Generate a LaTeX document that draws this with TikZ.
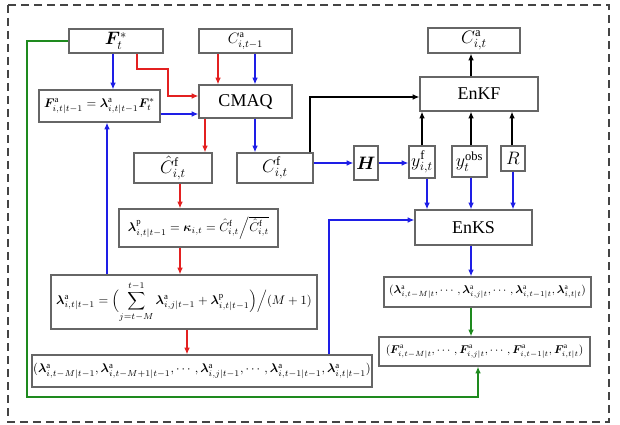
\documentclass[tikz,border=0pt]{standalone}
\usepackage{amsmath,amssymb,bm}
\usepackage{fontspec}
\setmainfont{Liberation Serif}
\usetikzlibrary{arrows.meta}
\definecolor{boxgray}{HTML}{666666}
\definecolor{flowred}{HTML}{E32020}
\definecolor{flowblue}{HTML}{1E1EE6}
\definecolor{flowgreen}{HTML}{1E8A1E}
\definecolor{framegray}{HTML}{444444}
\newcommand{\px}{0.8pt}
\tikzset{
  every picture/.style={line join=miter, >={Latex[length=5.5pt,width=4.6pt]}},
  box/.style={draw=boxgray, line width=0.9pt, inner sep=1pt, align=center},
  sym/.style={font=\Large},
  label/.style={font=\Large},
  redline/.style={flowred, line width=1.4pt, ->},
  blueline/.style={flowblue, line width=1.4pt, ->},
  greenline/.style={flowgreen, line width=1.4pt, ->},
  blackline/.style={black, line width=1.4pt, ->},
}
\newcommand{\lam}{\boldsymbol{\lambda}}
\newcommand{\sa}{\mathrm{a}}

\begin{document}
\begin{tikzpicture}[x=\px,y=-\px]
\useasboundingbox (0,0) rectangle (620,425);
\draw[framegray,line width=1.2pt,dash pattern=on 6.4pt off 4pt] (8,5) rectangle (609,422);
\node[box,sym,minimum width=94*\px,minimum height=24*\px] (fstar) at (116,41) {$\boldsymbol{F}_t^{*}$};
\node[box,font=\large,minimum width=93*\px,minimum height=24*\px] (cprev) at (245.5,41) {$C_{i,t-1}^{\sa}$};
\node[box,minimum width=121*\px,minimum height=32*\px] (faeq) at (99.5,106) {$\boldsymbol{F}_{i,t|t-1}^{\sa}=\lam_{i,t|t-1}^{\sa}\boldsymbol{F}_t^{*}$};
\node[box,label,minimum width=93*\px,minimum height=33*\px] (cmaq) at (245.5,101.5) {CMAQ};
\node[box,sym,minimum width=92*\px,minimum height=25*\px] (cat) at (474,40.5) {$C_{i,t}^{\sa}$};
\node[box,label,minimum width=118*\px,minimum height=34*\px] (enkf) at (479,94) {EnKF};
\node[box,sym,minimum width=78*\px,minimum height=30*\px] (chatf) at (173,168) {$\hat{C}_{i,t}^{\mathrm{f}}$};
\node[box,sym,minimum width=76*\px,minimum height=30*\px] (cf) at (275,168) {$C_{i,t}^{\mathrm{f}}$};
\node[box,minimum width=159*\px,minimum height=38*\px] (lpeq) at (198.5,228) {$\lam_{i,t|t-1}^{\mathrm{p}}=\boldsymbol{\kappa}_{i,t}=\hat{C}_{i,t}^{\mathrm{f}}\Big/\overline{\hat{C}_{i,t}^{\mathrm{f}}}$};
\node[box,sym,minimum width=24*\px,minimum height=34*\px] (hbox) at (366,163) {$\boldsymbol{H}$};
\node[box,sym,minimum width=26*\px,minimum height=32*\px] (yf) at (422,162) {$y_{i,t}^{\mathrm{f}}$};
\node[box,sym,minimum width=35*\px,minimum height=31*\px] (yobs) at (469.5,161.5) {$y_{t}^{\mathrm{obs}}$};
\node[box,sym,minimum width=24*\px,minimum height=25*\px] (rbox) at (513,158.5) {$R$};
\node[box,label,minimum width=117*\px,minimum height=35*\px] (enks) at (473.5,227.5) {EnKS};
\node[box,minimum width=266*\px,minimum height=54*\px] (laeq) at (184,302) {$\displaystyle\lam_{i,t|t-1}^{\sa}=\Bigl(\sum_{j=t-M}^{t-1}\lam_{i,j|t-1}^{\sa}+\lam_{i,t|t-1}^{\mathrm{p}}\Bigr)\Big/(M+1)$};
\node[box,minimum width=340*\px,minimum height=32*\px] (lseq) at (202,371) {$(\lam_{i,t-M|t-1}^{\sa},\lam_{i,t-M+1|t-1}^{\sa},\cdots,\lam_{i,j|t-1}^{\sa},\cdots,\lam_{i,t-1|t-1}^{\sa},\lam_{i,t|t-1}^{\sa})$};
\node[box,font=\small,minimum width=207*\px,minimum height=30*\px] (lright) at (487.5,292) {$(\lam_{i,t-M|t}^{\sa},\cdots,\lam_{i,j|t}^{\sa},\cdots,\lam_{i,t-1|t}^{\sa},\lam_{i,t|t}^{\sa})$};
\node[box,font=\small,minimum width=211*\px,minimum height=29*\px] (fright) at (484.5,351.5) {$(\boldsymbol{F}_{i,t-M|t}^{\sa},\cdots,\boldsymbol{F}_{i,j|t}^{\sa},\cdots,\boldsymbol{F}_{i,t-1|t}^{\sa},\boldsymbol{F}_{i,t|t}^{\sa})$};
\draw[greenline] (fstar.west) -- (27,41) -- (27,397) -| (478,0 |- fright.south);
\draw[greenline] (471,0 |- lright.south) -- (471,0 |- fright.north);
\draw[blueline] (113,0 |- fstar.south) -- (113,0 |- faeq.north);
\draw[redline] (137,0 |- fstar.south) -- (137,69) -- (168,69) -- (168,96) -- (cmaq.west |- 0,96);
\draw[blueline] (faeq.east |- 0,114) -- (cmaq.west |- 0,114);
\draw[redline] (218,0 |- cprev.south) -- (218,0 |- cmaq.north);
\draw[blueline] (255,0 |- cprev.south) -- (255,0 |- cmaq.north);
\draw[redline] (205,0 |- cmaq.south) -- (205,0 |- chatf.north);
\draw[blueline] (255,0 |- cmaq.south) -- (255,0 |- cf.north);
\draw[redline] (180,0 |- chatf.south) -- (180,0 |- lpeq.north);
\draw[redline] (180,0 |- lpeq.south) -- (180,0 |- laeq.north);
\draw[redline] (187,0 |- laeq.south) -- (187,0 |- lseq.north);
\draw[blueline] (107,0 |- laeq.north) -- (107,0 |- faeq.south);
\draw[blackline] (310,0 |- cf.north) |- (enkf.west |- 0,97);
\draw[blueline] (cf.east |- 0,163) -- (hbox.west |- 0,163);
\draw[blueline] (hbox.east |- 0,163) -- (yf.west |- 0,163);
\draw[blackline] (422,0 |- yf.north) -- (422,0 |- enkf.south);
\draw[blackline] (471,0 |- yobs.north) -- (471,0 |- enkf.south);
\draw[blackline] (512,0 |- rbox.north) -- (512,0 |- enkf.south);
\draw[blackline] (471,0 |- enkf.north) -- (471,0 |- cat.south);
\draw[blueline] (427,0 |- yf.south) -- (427,0 |- enks.north);
\draw[blueline] (471,0 |- yobs.south) -- (471,0 |- enks.north);
\draw[blueline] (513,0 |- rbox.south) -- (513,0 |- enks.north);
\draw[blueline] (329,0 |- lseq.north) |- (enks.west |- 0,220);
\draw[blueline] (471,0 |- enks.south) -- (471,0 |- lright.north);
\end{tikzpicture}
\end{document}
